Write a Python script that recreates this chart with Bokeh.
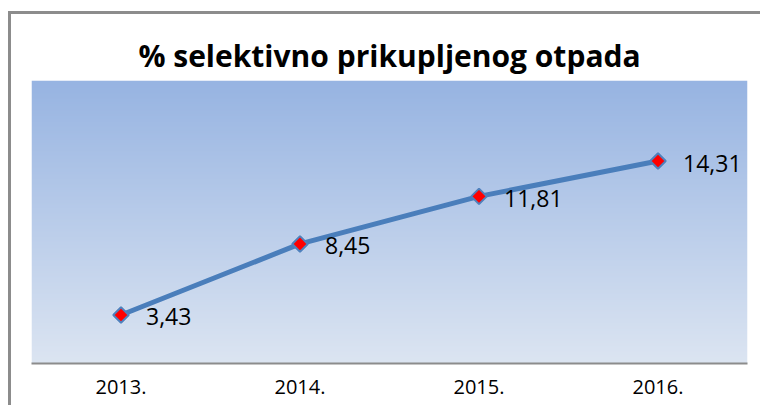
import numpy as np
from bokeh.plotting import figure
from bokeh.layouts import column
from bokeh.models import FixedTicker, Range1d, ColumnDataSource
from bokeh.core.properties import value
from bokeh.embed import file_html
from bokeh.resources import INLINE

# ---- data ----
years = ["2013.", "2014.", "2015.", "2016."]
percent = [3.43, 8.45, 11.81, 14.31]
title_text = "% selektivno prikupljenog otpada"

xs = list(range(len(years)))
labels = [f"{v:.2f}".replace(".", ",") for v in percent]
src = ColumnDataSource(dict(x=xs, y=percent, label=labels))

p = figure(width=749, height=391, output_backend="svg", toolbar_location=None,
           x_range=Range1d(-0.5, len(years) - 0.5), y_range=Range1d(0, 20),
           min_border_left=20, min_border_right=13, min_border_top=66, min_border_bottom=42,
           title=title_text)

p.title.align = "center"
p.title.text_font = "Open Sans"
p.title.text_font_size = "30px"
p.title.text_font_style = "bold"
p.title.text_color = "#000000"

p.outline_line_color = None
p.xgrid.visible = False
p.ygrid.visible = False
p.yaxis.visible = False
p.background_fill_color = "white"
p.border_fill_color = "white"

# gradient plot area
top = np.array([0x97, 0xB4, 0xE2], dtype=float)
bot = np.array([0xDC, 0xE5, 0xF2], dtype=float)
n = 256
t = np.linspace(0, 1, n)[:, None]
cols = bot * (1 - t) + top * t
img = np.zeros((n, 2), dtype=np.uint32)
view = img.view(dtype=np.uint8).reshape((n, 2, 4))
for j in range(2):
    view[:, j, 0] = cols[:, 0].astype(np.uint8)
    view[:, j, 1] = cols[:, 1].astype(np.uint8)
    view[:, j, 2] = cols[:, 2].astype(np.uint8)
    view[:, j, 3] = 255
p.image_rgba(image=[img], x=-0.5, y=0, dw=len(years), dh=20)

# x axis
ax = p.xaxis[0]
ax.ticker = FixedTicker(ticks=xs)
ax.major_label_overrides = {i: y for i, y in enumerate(years)}
ax.major_tick_line_color = None
ax.minor_tick_line_color = None
ax.axis_line_color = "#8C8C8C"
ax.axis_line_width = 2
ax.major_label_text_font = "Open Sans"
ax.major_label_text_font_size = "20px"
ax.major_label_text_color = "#000000"
ax.major_label_standoff = 10

# line + markers
p.line("x", "y", source=src, line_color="#4A7EBB", line_width=5)
p.scatter("x", "y", source=src, marker="square", angle=np.pi / 4, size=11,
          fill_color="#FF0000", line_color="#4F81BD", line_width=2)
p.text("x", "y", text="label", source=src, x_offset=25, y_offset=2,
       text_align="left", text_baseline="middle",
       text_font=value("Open Sans"), text_font_size="23px", text_color="#000000")

layout = column(p, margin=(11, 0, 0, 8),
                styles={"border-left": "3px solid #8C8C8C", "border-top": "3px solid #8C8C8C"})

open("out.html", "w").write(file_html(layout, INLINE))
